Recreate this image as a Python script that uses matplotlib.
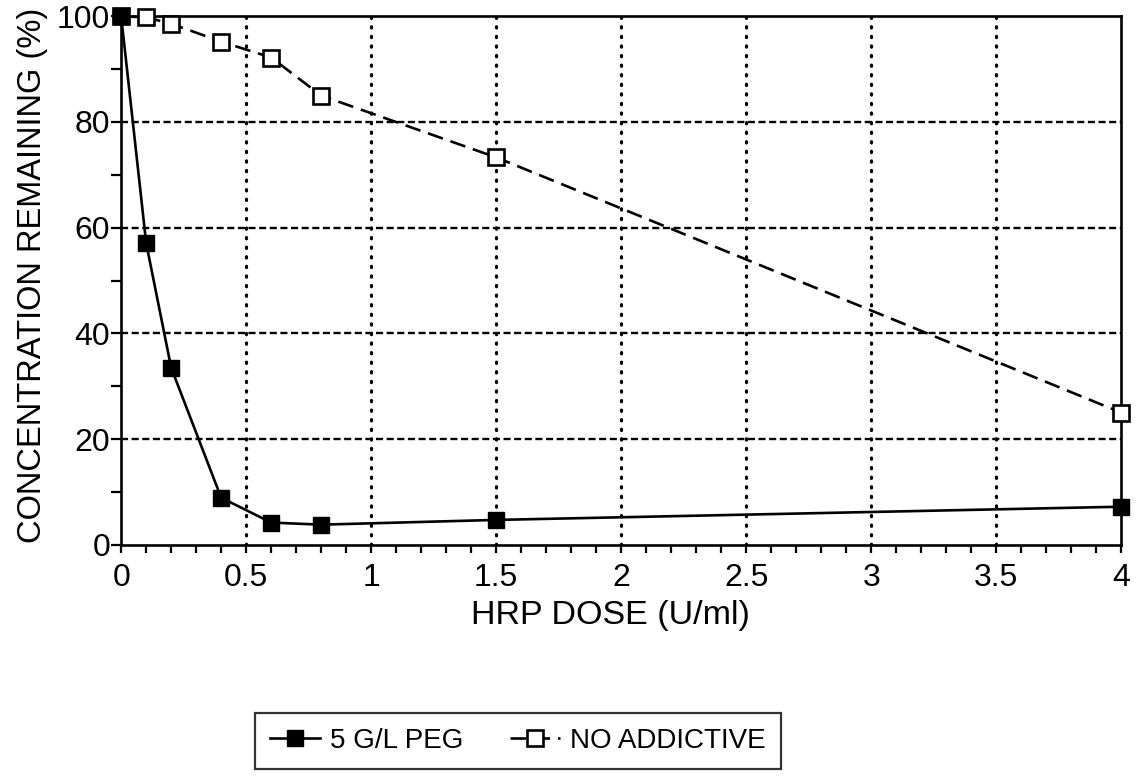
import matplotlib
matplotlib.use("Agg")
import matplotlib.pyplot as plt
from matplotlib.ticker import MultipleLocator

plt.rcParams['font.family'] = ['Liberation Sans', 'DejaVu Sans']

# HRP dose (U/ml)
dose = [0, 0.1, 0.2, 0.4, 0.6, 0.8, 1.5, 4]
# concentration remaining (%)
peg = [100, 57.1, 33.5, 8.9, 4.2, 3.8, 4.7, 7.2]
no_add = [100, 99.8, 98.6, 95.2, 92.2, 85.0, 73.3, 25.0]

fig = plt.figure(figsize=(11.43, 7.76), dpi=100)
ax = fig.add_axes([0.106, 0.298, 0.875, 0.681])

ax.plot(dose, no_add, color='black', lw=1.9, linestyle=(0, (6, 3)),
        marker='s', markersize=11, markerfacecolor='white', markeredgecolor='black',
        markeredgewidth=1.9, clip_on=False, zorder=3, label='NO ADDICTIVE')
ax.plot(dose, peg, color='black', lw=1.9, marker='s', markersize=12,
        markerfacecolor='black', clip_on=False, zorder=4, label='5 G/L PEG')

ax.set_xlim(0, 4)
ax.set_ylim(0, 100)
ax.xaxis.set_minor_locator(MultipleLocator(0.1))
ax.yaxis.set_major_locator(MultipleLocator(20))
ax.yaxis.set_minor_locator(MultipleLocator(10))
ax.set_xticks([0, 0.5, 1, 1.5, 2, 2.5, 3, 3.5, 4])
ax.set_xticklabels(['0', '0.5', '1', '1.5', '2', '2.5', '3', '3.5', '4'])

# grid: dashed horizontal, dotted vertical
for yv in [20, 40, 60, 80]:
    ax.axhline(yv, color='black', lw=1.7, linestyle=(0, (3, 1.5)), zorder=1)
for xv in [0.5, 1, 1.5, 2, 2.5, 3, 3.5]:
    ax.axvline(xv, color='black', lw=2.3, linestyle=(0, (0.4, 2.6)),
               dash_capstyle='round', zorder=1)

for s in ax.spines.values():
    s.set_linewidth(1.9)

ax.tick_params(axis='both', which='both', direction='out', width=1.6,
               labelsize=23, colors='black')
ax.tick_params(axis='x', which='both', length=6, pad=7)
ax.tick_params(axis='y', which='both', length=7, pad=1)

ax.set_xlabel('HRP DOSE (U/ml)', fontsize=24.5, labelpad=3)
ax.set_ylabel('CONCENTRATION REMAINING (%)', fontsize=23.5, labelpad=5)
ax.xaxis.set_label_coords(0.489, -0.105)
ax.yaxis.set_label_coords(-0.073, 0.51)

handles, labels = ax.get_legend_handles_labels()
leg = fig.legend(handles[::-1], labels[::-1], loc='center', ncol=2,
                 bbox_to_anchor=(0.453, 0.045), frameon=True, fontsize=20,
                 fancybox=False, edgecolor='black', handlelength=1.8,
                 handletextpad=0.35, columnspacing=1.7, borderpad=0.55)
leg.get_frame().set_linewidth(1.6)

fig.savefig('out.png', dpi=100)
